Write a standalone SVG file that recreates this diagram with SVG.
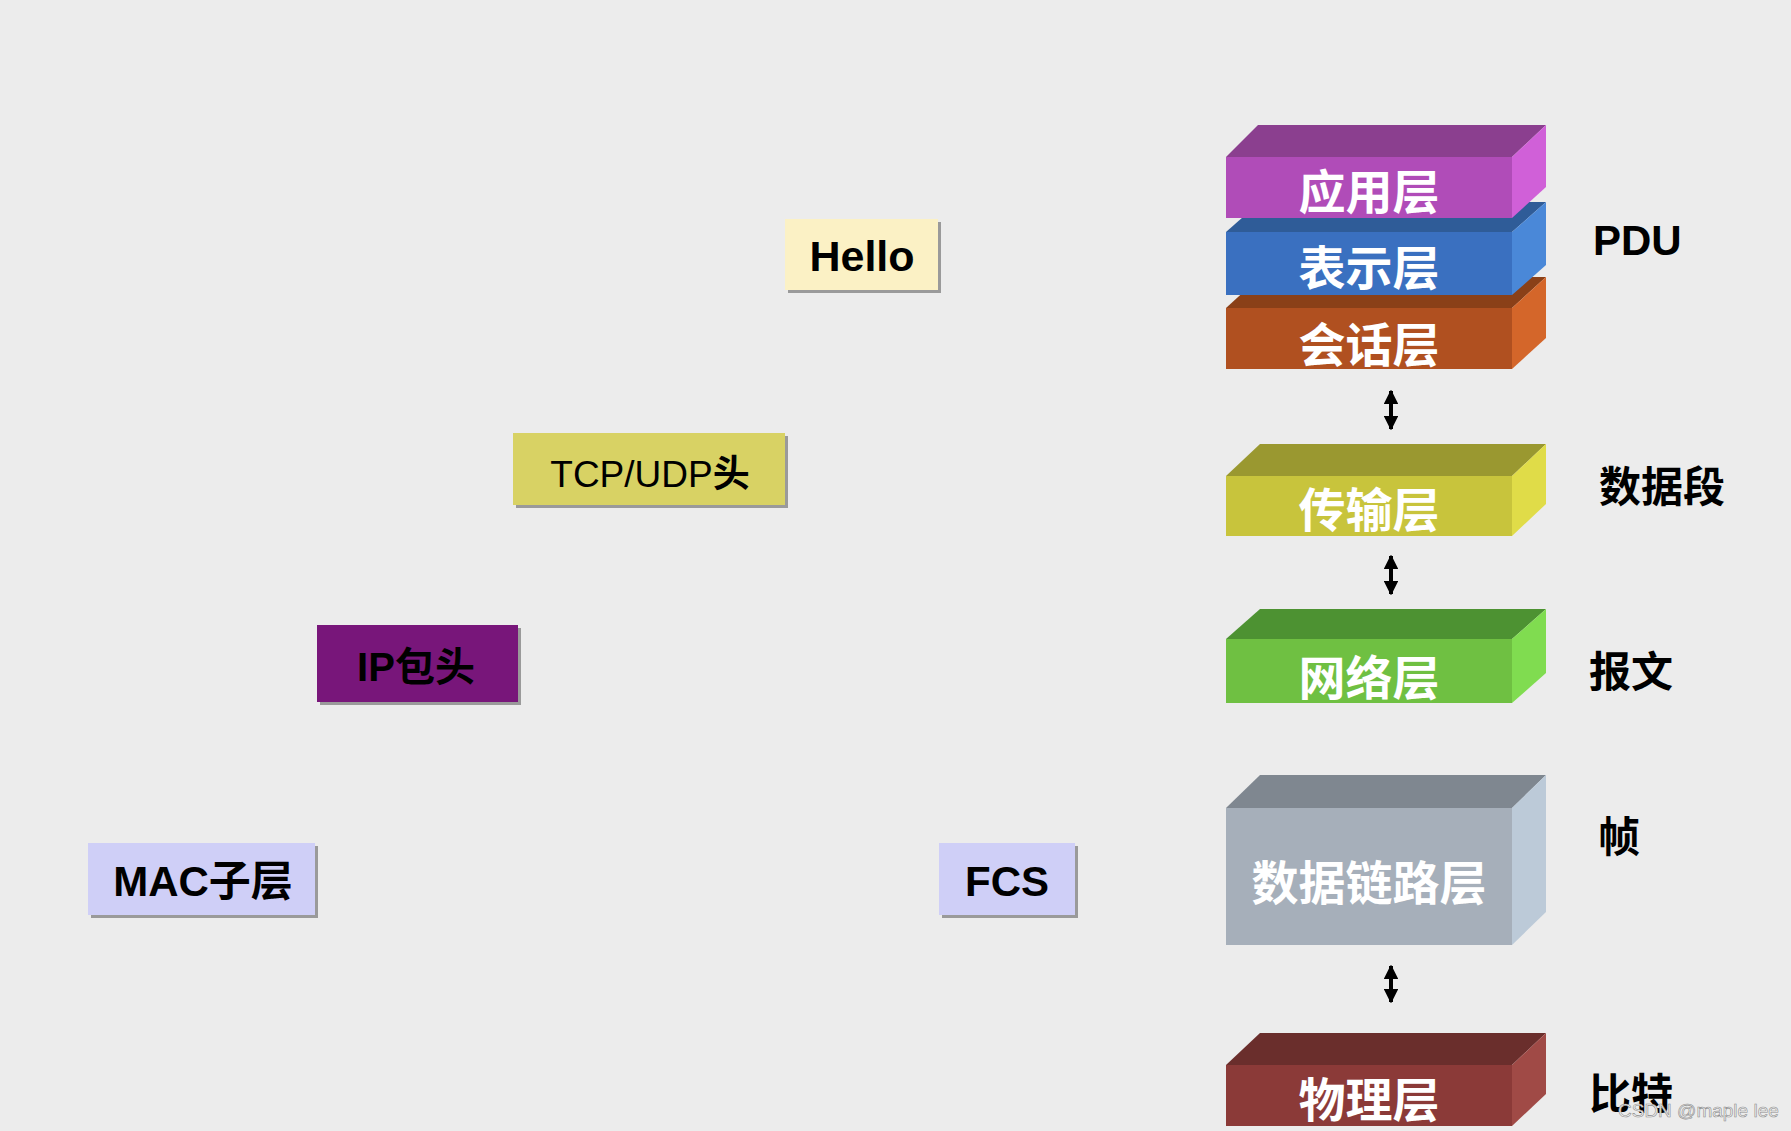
<svg xmlns="http://www.w3.org/2000/svg" width="1791" height="1131" viewBox="0 0 1791 1131">
<defs>
<marker id="ah" viewBox="0 0 10 10" refX="9" refY="5" markerWidth="3.6" markerHeight="3.6" orient="auto-start-reverse" markerUnits="strokeWidth">
<path d="M0,0 L10,5 L0,10 Z" fill="#000"/>
</marker>
<style>
.bg{fill:#ececec}
.lbl{font-family:"Noto Sans CJK SC","Liberation Sans",sans-serif;font-weight:700;fill:#fff;text-anchor:middle;font-size:47px}
.pdu{font-family:"Liberation Sans","Noto Sans CJK SC",sans-serif;font-weight:700;fill:#000;font-size:42px}
.box{font-family:"Liberation Sans","Noto Sans CJK SC",sans-serif;font-weight:700;fill:#000;text-anchor:middle}
.sh{fill:#9a9a9a}
.arr{stroke:#000;stroke-width:4;fill:none;marker-start:url(#ah);marker-end:url(#ah)}
.wm{font-family:"Liberation Sans",sans-serif;font-size:19px;fill:#f4f4f4;stroke:#8c8c8c;stroke-width:0.6}
</style>
</defs>
<rect class="bg" x="0" y="0" width="1791" height="1131"/>

<!-- left boxes -->
<g id="hello">
<rect class="sh" x="788" y="222" width="153" height="71"/>
<rect x="785" y="219" width="153" height="71" fill="#fbf1c5"/>
<text class="box" x="862" y="271" font-size="43">Hello</text>
</g>
<g id="tcpudp">
<rect class="sh" x="516" y="436" width="272" height="72"/>
<rect x="513" y="433" width="272" height="72" fill="#d8d264"/>
<text class="box" x="650" y="487" font-size="37"><tspan font-weight="400">TCP/UDP</tspan><tspan font-family="Noto Sans CJK SC, sans-serif">头</tspan></text>
</g>
<g id="ip">
<rect class="sh" x="320" y="628" width="201" height="77"/>
<rect x="317" y="625" width="201" height="77" fill="#78167a"/>
<text class="box" x="416" y="681" font-size="40">IP<tspan font-family="Noto Sans CJK SC, sans-serif">包头</tspan></text>
</g>
<g id="mac">
<rect class="sh" x="91" y="846" width="227" height="72"/>
<rect x="88" y="843" width="227" height="72" fill="#cfcff7"/>
<text class="box" x="203" y="896" font-size="42">MAC<tspan font-family="Noto Sans CJK SC, sans-serif">子层</tspan></text>
</g>
<g id="fcs">
<rect class="sh" x="942" y="846" width="136" height="72"/>
<rect x="939" y="843" width="136" height="72" fill="#cfcff7"/>
<text class="box" x="1007" y="896" font-size="42">FCS</text>
</g>

<!-- layer blocks (drawn bottom-up so upper ones overlap) -->
<g id="physical">
<polygon points="1226,1065 1260,1033 1546,1033 1512,1065" fill="#6a2e2c"/>
<polygon points="1512,1065 1546,1033 1546,1094 1512,1126" fill="#a04a46"/>
<rect x="1226" y="1065" width="286" height="61" fill="#8b3a38"/>
<text class="lbl" x="1369" y="1117">物理层</text>
</g>
<g id="datalink">
<polygon points="1226,808 1260,775 1546,775 1512,808" fill="#7f8790"/>
<polygon points="1512,808 1546,775 1546,912 1512,945" fill="#bccad8"/>
<rect x="1226" y="808" width="286" height="137" fill="#a6afba"/>
<text class="lbl" x="1369" y="900">数据链路层</text>
</g>
<g id="network">
<polygon points="1226,639 1260,609 1546,609 1512,639" fill="#4d9232"/>
<polygon points="1512,639 1546,609 1546,673 1512,703" fill="#80dc50"/>
<rect x="1226" y="639" width="286" height="64" fill="#6fc042"/>
<text class="lbl" x="1369" y="695">网络层</text>
</g>
<g id="transport">
<polygon points="1226,476 1260,444 1546,444 1512,476" fill="#9a9830"/>
<polygon points="1512,476 1546,444 1546,504 1512,536" fill="#e0dc48"/>
<rect x="1226" y="476" width="286" height="60" fill="#c8c43c"/>
<text class="lbl" x="1369" y="527">传输层</text>
</g>
<g id="session">
<polygon points="1226,308 1260,277 1546,277 1512,308" fill="#8a4018"/>
<polygon points="1512,308 1546,277 1546,338 1512,369" fill="#d4662a"/>
<rect x="1226" y="308" width="286" height="61" fill="#b05020"/>
<text class="lbl" x="1369" y="362">会话层</text>
</g>
<g id="presentation">
<polygon points="1226,232 1260,202 1546,202 1512,232" fill="#2f5c98"/>
<polygon points="1512,232 1546,202 1546,265 1512,295" fill="#4a88d8"/>
<rect x="1226" y="232" width="286" height="63" fill="#3a70c0"/>
<text class="lbl" x="1369" y="285">表示层</text>
</g>
<g id="application">
<polygon points="1226,157 1258,125 1546,125 1512,157" fill="#8b3f8f"/>
<polygon points="1512,157 1546,125 1546,187 1512,218" fill="#d060d8"/>
<rect x="1226" y="157" width="286" height="61" fill="#b04cb8"/>
<text class="lbl" x="1369" y="209">应用层</text>
</g>

<!-- connectors -->
<g id="connectors">
<line class="arr" x1="1391" y1="391" x2="1391" y2="429"/>
<line class="arr" x1="1391" y1="556" x2="1391" y2="594"/>
<line class="arr" x1="1391" y1="966" x2="1391" y2="1002"/>
</g>

<!-- PDU labels -->
<g id="pdu-labels">
<text class="pdu" x="1593" y="255">PDU</text>
<text class="pdu" x="1599" y="502">数据段</text>
<text class="pdu" x="1589" y="687">报文</text>
<text class="pdu" x="1598" y="852">帧</text>
<text class="pdu" x="1589" y="1109">比特</text>
</g>

<text class="wm" x="1618" y="1117">CSDN @maple lee</text>
</svg>
